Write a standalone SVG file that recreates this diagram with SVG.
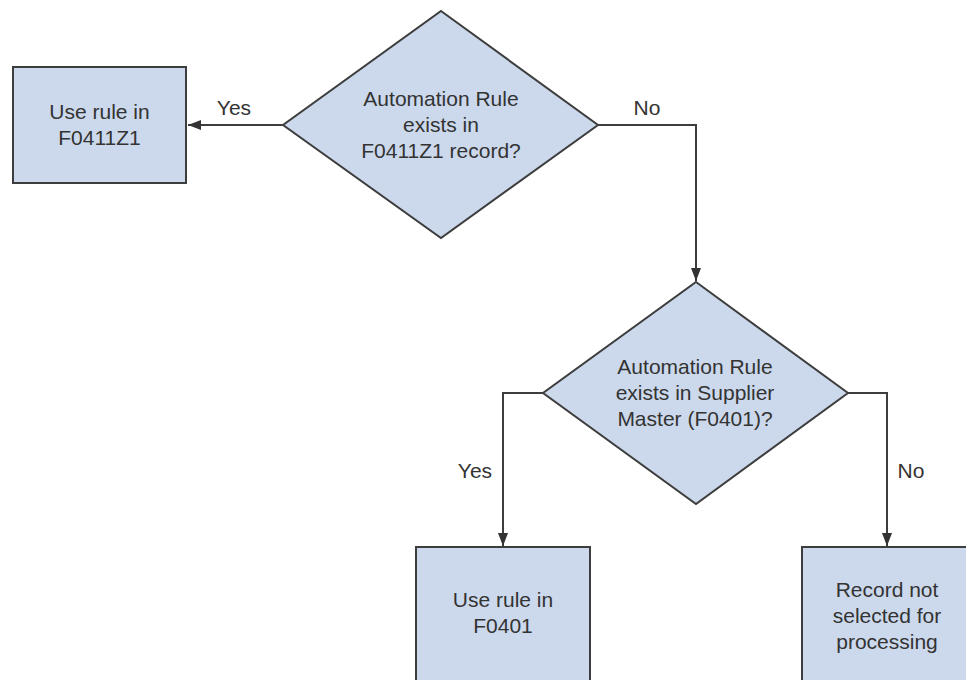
<svg xmlns="http://www.w3.org/2000/svg" width="966" height="680" viewBox="0 0 966 680">
<style>
.shape{fill:#ccd9ec;stroke:#3d3d3d;stroke-width:2}
.lbl{font-family:"Liberation Sans",Arial,sans-serif;font-size:21px;fill:#333;text-anchor:middle}
.con{fill:none;stroke:#3d3d3d;stroke-width:2}
</style>
<defs>
<marker id="arr" viewBox="0 0 13 10" refX="13" refY="5" markerWidth="13" markerHeight="10" markerUnits="userSpaceOnUse" orient="auto">
<path d="M0,0 L13,5 L0,10 z" fill="#333"/>
</marker>
</defs>
<rect width="966" height="680" fill="#fff"/>
<g id="connectors">
<path class="con" d="M283,125 H188" marker-end="url(#arr)"/>
<path class="con" d="M598,125 H696 V281" marker-end="url(#arr)"/>
<path class="con" d="M543,393 H503 V546" marker-end="url(#arr)"/>
<path class="con" d="M848,393 H887 V546" marker-end="url(#arr)"/>
<text class="lbl" x="234" y="115">Yes</text>
<text class="lbl" x="647" y="115">No</text>
<text class="lbl" x="475" y="478">Yes</text>
<text class="lbl" x="911" y="478">No</text>
</g>
<g id="box-f0411z1">
<rect class="shape" x="13" y="67" width="173" height="116"/>
<text class="lbl" x="99.5" y="119">Use rule in</text>
<text class="lbl" x="99.5" y="145">F0411Z1</text>
</g>
<g id="decision-f0411z1">
<polygon class="shape" points="441,11 598,125 441,238 283,125"/>
<text class="lbl" x="441" y="106">Automation Rule</text>
<text class="lbl" x="441" y="132">exists in</text>
<text class="lbl" x="441" y="158">F0411Z1 record?</text>
</g>
<g id="decision-f0401">
<polygon class="shape" points="696,282 848,393 696,504 543,393"/>
<text class="lbl" x="695" y="374">Automation Rule</text>
<text class="lbl" x="695" y="400">exists in Supplier</text>
<text class="lbl" x="695" y="426">Master (F0401)?</text>
</g>
<g id="box-f0401">
<rect class="shape" x="416" y="547" width="174" height="150"/>
<text class="lbl" x="503" y="607">Use rule in</text>
<text class="lbl" x="503" y="633">F0401</text>
</g>
<g id="box-not-selected">
<rect class="shape" x="802" y="547" width="174" height="150"/>
<text class="lbl" x="887" y="597">Record not</text>
<text class="lbl" x="887" y="623">selected for</text>
<text class="lbl" x="887" y="649">processing</text>
</g>
</svg>
